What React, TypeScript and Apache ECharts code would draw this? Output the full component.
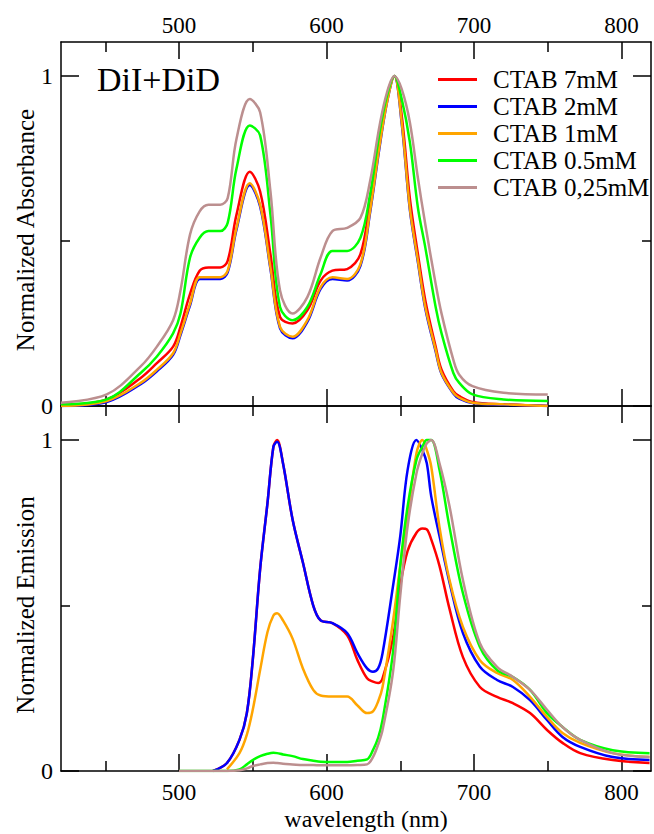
import React, { useEffect, useRef } from "react";
import * as echarts from "echarts";

const FONT = '"Liberation Serif", "Times New Roman", serif';

const seriesNames = ["CTAB 7mM", "CTAB 2mM", "CTAB 1mM", "CTAB 0.5mM", "CTAB 0,25mM"];
const seriesColors = ["#ff0000", "#0000ff", "#ffa500", "#00ff00", "#bc8f8f"];

const majorX = [500, 600, 700, 800];
const minorX = [450, 550, 650, 750];
const majorY = [0, 1];
const minorY = [0.5];

// Absorbance (top panel)
const wlAbs = [420, 451, 474, 485, 496, 501, 507.5, 514, 520, 528, 533, 539, 548, 555, 562, 568.5, 577, 587, 596, 604, 614, 623, 629.5, 636, 641, 646, 651, 656.5, 662, 667, 674, 678, 686, 690, 699, 720, 750];
const absRed = [0.0, 0.02, 0.085, 0.13, 0.18, 0.24, 0.34, 0.41, 0.42, 0.42, 0.44, 0.58, 0.71, 0.65, 0.46, 0.27, 0.25, 0.29, 0.38, 0.41, 0.415, 0.46, 0.62, 0.81, 0.93, 1.0, 0.88, 0.63, 0.46, 0.32, 0.18, 0.11, 0.045, 0.03, 0.012, 0.005, 0.0];
const absBlue = [0.0, 0.012, 0.066, 0.105, 0.155, 0.215, 0.305, 0.385, 0.385, 0.385, 0.405, 0.535, 0.67, 0.605, 0.415, 0.235, 0.205, 0.255, 0.355, 0.385, 0.38, 0.425, 0.585, 0.785, 0.92, 1.0, 0.855, 0.595, 0.435, 0.295, 0.165, 0.097, 0.038, 0.022, 0.009, 0.004, 0.0];
const absOrange = [0.0, 0.015, 0.07, 0.11, 0.16, 0.22, 0.31, 0.39, 0.39, 0.39, 0.41, 0.54, 0.675, 0.61, 0.42, 0.24, 0.21, 0.26, 0.36, 0.39, 0.385, 0.43, 0.59, 0.79, 0.92, 1.0, 0.86, 0.6, 0.44, 0.3, 0.17, 0.1, 0.04, 0.025, 0.01, 0.005, 0.0];
const absGreen = [0.005, 0.02, 0.1, 0.15, 0.22, 0.28, 0.45, 0.51, 0.53, 0.53, 0.555, 0.72, 0.85, 0.82, 0.58, 0.3, 0.26, 0.3, 0.4, 0.47, 0.47, 0.51, 0.64, 0.83, 0.94, 1.0, 0.93, 0.8, 0.6, 0.48, 0.3, 0.22, 0.1, 0.07, 0.035, 0.02, 0.015];
const absBrown = [0.01, 0.035, 0.12, 0.18, 0.26, 0.35, 0.52, 0.59, 0.61, 0.61, 0.63, 0.81, 0.93, 0.89, 0.65, 0.35, 0.28, 0.33, 0.45, 0.53, 0.54, 0.57, 0.68, 0.85, 0.95, 1.0, 0.96, 0.86, 0.69, 0.55, 0.37, 0.28, 0.14, 0.095, 0.06, 0.04, 0.035];

// Emission (bottom panel)
const wlEm = [500, 523, 532.5, 541, 546, 550, 555, 560, 564, 566.5, 570.5, 577, 584, 591, 596, 604, 614, 621, 627.5, 631.5, 635, 638, 645, 650, 655, 661, 665, 668, 671, 676.6, 683.4, 692.5, 704, 715.6, 726.4, 738, 749.5, 760, 772, 794, 819];
const emRed = [null, 0.0, 0.024, 0.094, 0.175, 0.335, 0.61, 0.81, 0.98, 1.0, 0.93, 0.76, 0.63, 0.5, 0.455, 0.447, 0.41, 0.335, 0.28, 0.27, 0.266, 0.28, 0.4, 0.56, 0.665, 0.72, 0.733, 0.73, 0.7, 0.62, 0.49, 0.344, 0.254, 0.224, 0.205, 0.175, 0.124, 0.085, 0.054, 0.033, 0.024];
const emBlue = [null, 0.0, 0.024, 0.094, 0.175, 0.335, 0.61, 0.81, 0.98, 0.995, 0.93, 0.76, 0.63, 0.5, 0.455, 0.447, 0.417, 0.356, 0.31, 0.3, 0.31, 0.356, 0.556, 0.71, 0.91, 1.0, 0.97, 0.93, 0.83, 0.71, 0.57, 0.417, 0.315, 0.275, 0.254, 0.214, 0.154, 0.103, 0.073, 0.042, 0.033];
const emOrange = [null, null, 0.005, 0.054, 0.11, 0.185, 0.305, 0.42, 0.47, 0.477, 0.455, 0.4, 0.31, 0.245, 0.228, 0.225, 0.225, 0.198, 0.175, 0.18, 0.21, 0.254, 0.45, 0.62, 0.77, 0.96, 1.0, 0.97, 0.92, 0.737, 0.577, 0.435, 0.335, 0.296, 0.275, 0.224, 0.163, 0.115, 0.085, 0.054, 0.042];
const emGreen = [0.0, 0.0, 0.0, 0.005, 0.02, 0.033, 0.045, 0.052, 0.055, 0.054, 0.05, 0.045, 0.036, 0.031, 0.028, 0.027, 0.027, 0.031, 0.035, 0.063, 0.1, 0.154, 0.356, 0.62, 0.8, 0.94, 0.98, 1.0, 1.0, 0.91, 0.737, 0.537, 0.375, 0.305, 0.284, 0.245, 0.175, 0.133, 0.094, 0.063, 0.054];
const emBrown = [0.0, 0.0, 0.0, 0.002, 0.008, 0.015, 0.02, 0.024, 0.025, 0.024, 0.022, 0.02, 0.018, 0.018, 0.017, 0.017, 0.017, 0.018, 0.02, 0.042, 0.08, 0.124, 0.296, 0.53, 0.74, 0.9, 0.96, 0.99, 1.0, 0.93, 0.8, 0.577, 0.386, 0.315, 0.284, 0.245, 0.185, 0.133, 0.094, 0.054, 0.042];

const absSets = [absRed, absBlue, absOrange, absGreen, absBrown];
const emSets = [emRed, emBlue, emOrange, emGreen, emBrown];

function pairs(xs: number[], ys: (number | null)[]) {
  const out: number[][] = [];
  xs.forEach((x, i) => {
    if (ys[i] !== null && ys[i] !== undefined) out.push([x, ys[i] as number]);
  });
  return out;
}

const black = { color: "#000", width: 1.5 };

function xAxisPair(gridIndex: number, position: string, showLabels: boolean) {
  return [
    {
      type: "value",
      gridIndex,
      position,
      min: 420,
      max: 820,
      axisLine: { show: true, onZero: false, lineStyle: black },
      axisTick: { show: true, inside: true, length: 17, customValues: majorX, lineStyle: black },
      axisLabel: {
        show: showLabels,
        customValues: majorX,
        fontSize: 23,
        fontFamily: FONT,
        color: "#000",
        margin: position === "bottom" ? 10 : 5,
      },
      splitLine: { show: false },
    },
    {
      type: "value",
      gridIndex,
      position,
      min: 420,
      max: 820,
      axisLine: { show: false, onZero: false },
      axisTick: { show: true, inside: true, length: 10, customValues: minorX, lineStyle: black },
      axisLabel: { show: false },
      splitLine: { show: false },
    },
  ];
}

function yAxisPair(gridIndex: number, position: string, showLabels: boolean) {
  return [
    {
      type: "value",
      gridIndex,
      position,
      min: 0,
      max: 1.103,
      axisLine: { show: true, onZero: false, lineStyle: black },
      axisTick: { show: true, inside: true, length: 18, customValues: majorY, lineStyle: black },
      axisLabel: {
        show: showLabels,
        customValues: majorY,
        fontSize: 24,
        fontFamily: FONT,
        color: "#000",
        margin: 8,
      },
      splitLine: { show: false },
    },
    {
      type: "value",
      gridIndex,
      position,
      min: 0,
      max: 1.103,
      axisLine: { show: false, onZero: false },
      axisTick: { show: true, inside: true, length: 9, customValues: minorY, lineStyle: black },
      axisLabel: { show: false },
      splitLine: { show: false },
    },
  ];
}

export default function App() {
  const ref = useRef<HTMLDivElement>(null);

  useEffect(() => {
    document.body.style.margin = "0";
    if (!ref.current) return;
    const chart = echarts.init(ref.current, undefined, { renderer: "svg" });

    const xAxes = [
      ...xAxisPair(0, "top", true),
      ...xAxisPair(0, "bottom", false),
      ...xAxisPair(1, "top", false),
      ...xAxisPair(1, "bottom", true),
    ];
    const yAxes = [
      ...yAxisPair(0, "left", true),
      ...yAxisPair(0, "right", false),
      ...yAxisPair(1, "left", true),
      ...yAxisPair(1, "right", false),
    ];

    const lineBase = {
      type: "line",
      showSymbol: false,
      symbol: "none",
      smooth: 0.35,
      silent: true,
    };

    const series: any[] = [];
    seriesNames.forEach((name, i) => {
      series.push({
        ...lineBase,
        name,
        xAxisIndex: 0,
        yAxisIndex: 0,
        data: pairs(wlAbs, absSets[i]),
        lineStyle: { color: seriesColors[i], width: 2.5 },
        itemStyle: { color: seriesColors[i] },
      });
    });
    seriesNames.forEach((name, i) => {
      series.push({
        ...lineBase,
        name,
        xAxisIndex: 6,
        yAxisIndex: 4,
        data: pairs(wlEm, emSets[i]),
        lineStyle: { color: seriesColors[i], width: 2.5 },
        itemStyle: { color: seriesColors[i] },
      });
    });

    chart.setOption({
      animation: false,
      backgroundColor: "#ffffff",
      grid: [
        { left: 61, top: 42, width: 590, height: 364 },
        { left: 61, top: 406, width: 590, height: 365 },
      ],
      xAxis: xAxes,
      yAxis: yAxes,
      legend: {
        orient: "vertical",
        left: 433,
        top: 62,
        icon: "rect",
        itemWidth: 39,
        itemHeight: 3,
        itemGap: 2,
        selectedMode: false,
        data: seriesNames,
        textStyle: {
          fontSize: 25,
          fontFamily: FONT,
          color: "#000",
          padding: [0, 0, 0, 11],
        },
      },
      graphic: [
        {
          type: "text",
          x: 97,
          y: 79,
          style: {
            text: "DiI+DiD",
            font: `34px ${FONT}`,
            fill: "#000",
            textAlign: "left",
            textVerticalAlign: "middle",
          },
        },
        {
          type: "text",
          x: 366,
          y: 819,
          style: {
            text: "wavelength (nm)",
            font: `24px ${FONT}`,
            fill: "#000",
            textAlign: "center",
            textVerticalAlign: "middle",
          },
        },
        {
          type: "text",
          x: 25,
          y: 230,
          rotation: Math.PI / 2,
          style: {
            text: "Normalized Absorbance",
            font: `25px ${FONT}`,
            fill: "#000",
            textAlign: "center",
            textVerticalAlign: "middle",
          },
        },
        {
          type: "text",
          x: 25,
          y: 605,
          rotation: Math.PI / 2,
          style: {
            text: "Normalized Emission",
            font: `25px ${FONT}`,
            fill: "#000",
            textAlign: "center",
            textVerticalAlign: "middle",
          },
        },
      ],
      series,
    });

    return () => chart.dispose();
  }, []);

  return <div ref={ref} style={{ width: 654, height: 834 }} />;
}
